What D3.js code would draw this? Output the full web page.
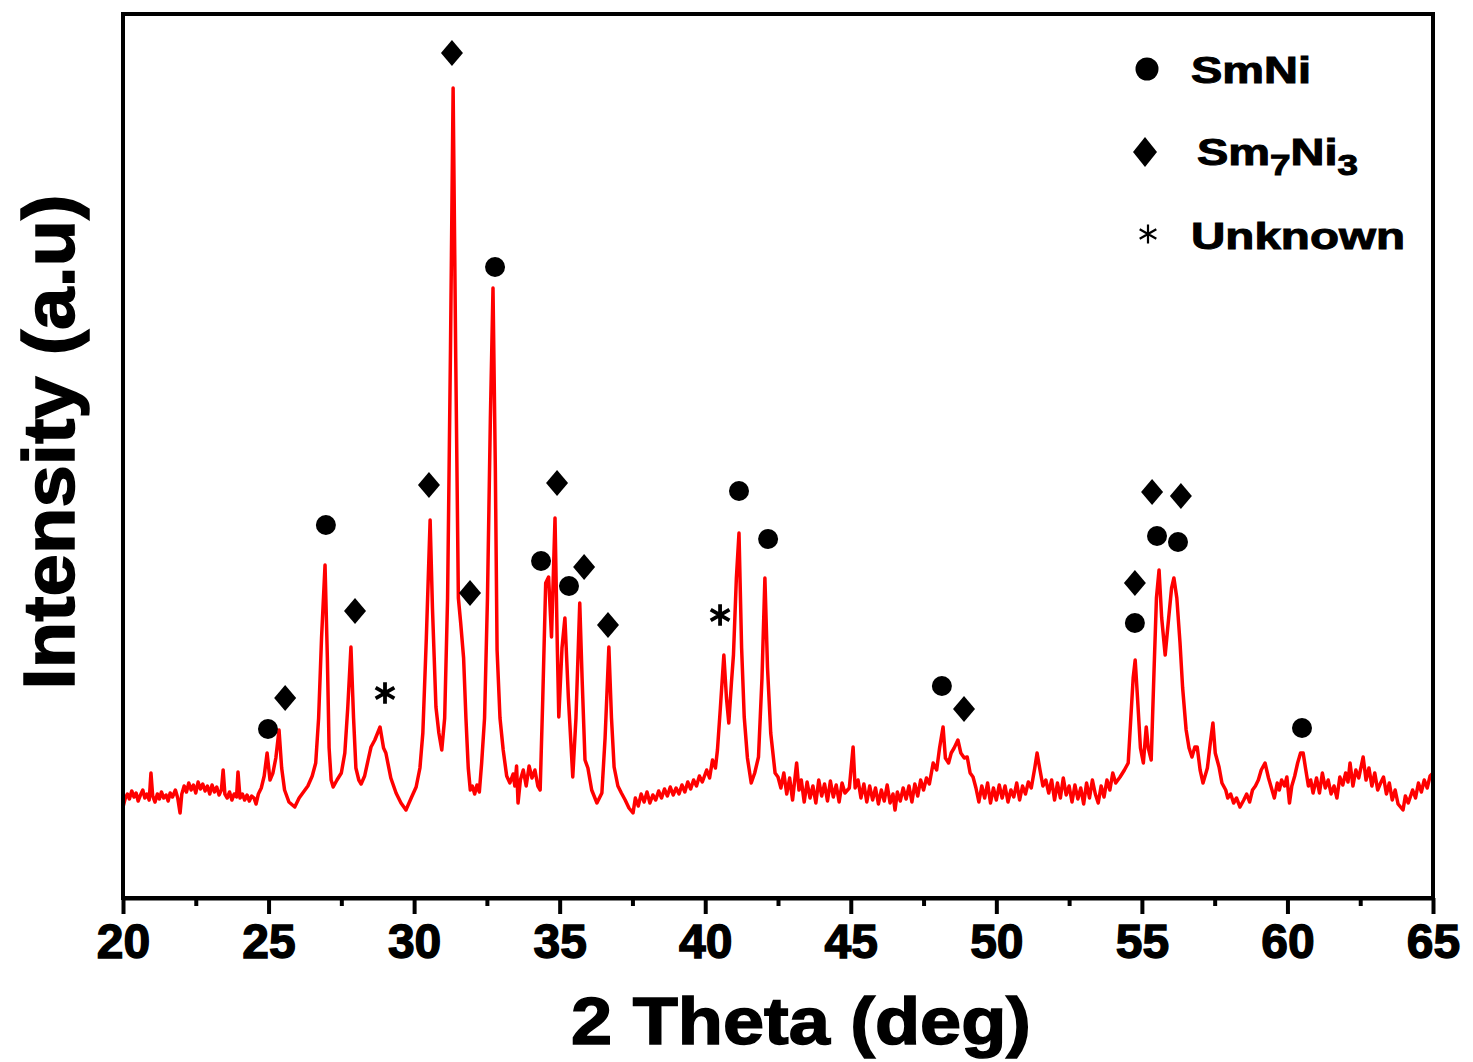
<!DOCTYPE html>
<html>
<head>
<meta charset="utf-8">
<script src="https://cdn.jsdelivr.net/npm/d3@7"></script>
<style>
  html, body { margin: 0; padding: 0; background: #fff; }
  svg { display: block; }
  text { font-family: "Liberation Sans", Arial, sans-serif; font-weight: bold; }
</style>
</head>
<body>
<svg id="chart" width="1473" height="1062"></svg>
<script>
// ---------------- DATA ----------------
const xDomain = [20, 65];
const yDomain = [0, 884];           // arbitrary intensity units
const majorTicks = [20, 25, 30, 35, 40, 45, 50, 55, 60, 65];
const minorTicks = [22.5, 27.5, 32.5, 37.5, 42.5, 47.5, 52.5, 57.5, 62.5];
const xLabel = "2 Theta (deg)";
const yLabel = "Intensity (a.u)";

// XRD pattern: [2theta, intensity]
const pattern = [
  [20.00,91],[20.08,100],[20.15,104],[20.22,99],[20.30,107],[20.38,101],[20.45,105],[20.52,97],
  [20.60,103],[20.68,108],[20.75,100],[20.82,104],[20.90,98],[20.96,125],[21.02,102],[21.10,96],
  [21.18,104],[21.25,99],[21.32,106],[21.40,100],[21.48,103],[21.55,97],[21.62,105],[21.70,101],
  [21.80,108],[21.88,100],[21.96,85],[22.02,104],[22.10,112],[22.18,106],[22.26,115],[22.34,108],
  [22.42,113],[22.50,105],[22.58,116],[22.66,109],[22.74,114],[22.82,107],[22.90,112],[22.98,104],
  [23.06,113],[23.14,106],[23.22,111],[23.30,103],[23.38,108],[23.44,128],[23.50,104],[23.58,100],
  [23.66,106],[23.74,98],[23.82,104],[23.90,101],[23.95,126],[24.02,100],[24.10,104],[24.18,98],
  [24.26,103],[24.34,97],[24.42,102],[24.50,100],[24.57,94],[24.65,104],[24.75,110],[24.85,122],
  [24.95,145],[25.05,118],[25.15,125],[25.25,140],[25.36,168],[25.45,130],[25.55,108],[25.70,96],
  [25.90,91],[26.05,100],[26.20,106],[26.35,112],[26.50,122],[26.62,135],[26.72,180],[26.82,260],
  [26.94,333],[27.02,240],[27.08,150],[27.15,118],[27.22,111],[27.35,118],[27.50,125],[27.62,145],
  [27.72,190],[27.83,251],[27.92,180],[28.00,130],[28.10,118],[28.18,114],[28.30,122],[28.42,138],
  [28.52,151],[28.65,158],[28.83,171],[28.95,150],[29.03,145],[29.20,120],[29.38,105],[29.55,95],
  [29.72,88],[29.90,100],[30.07,111],[30.20,130],[30.30,165],[30.42,260],[30.55,378],[30.63,290],
  [30.75,191],[30.85,165],[30.95,148],[31.05,180],[31.15,300],[31.25,550],[31.34,810],[31.43,540],
  [31.52,300],[31.60,275],[31.70,240],[31.78,180],[31.86,130],[31.93,108],[32.00,112],[32.08,104],
  [32.16,113],[32.24,106],[32.32,135],[32.42,180],[32.52,300],[32.62,480],[32.71,610],[32.79,430],
  [32.85,248],[32.95,180],[33.06,148],[33.18,122],[33.29,115],[33.40,124],[33.46,112],[33.52,132],
  [33.57,95],[33.65,118],[33.75,128],[33.85,112],[33.95,132],[34.05,120],[34.15,128],[34.25,112],
  [34.33,108],[34.42,200],[34.52,315],[34.62,321],[34.72,261],[34.84,380],[34.92,250],[34.97,181],
  [35.08,250],[35.18,280],[35.30,200],[35.45,121],[35.56,180],[35.69,295],[35.77,220],[35.87,138],
  [35.97,130],[36.10,108],[36.28,95],[36.45,105],[36.56,160],[36.69,251],[36.78,180],[36.87,131],
  [37.00,112],[37.12,105],[37.25,98],[37.38,90],[37.52,85],[37.60,100],[37.70,92],[37.80,104],
  [37.90,96],[38.00,106],[38.10,95],[38.20,103],[38.30,98],[38.40,107],[38.50,100],[38.60,109],
  [38.70,102],[38.80,111],[38.90,103],[39.00,110],[39.10,104],[39.20,113],[39.30,106],[39.40,116],
  [39.50,109],[39.60,118],[39.70,112],[39.80,122],[39.90,116],[40.05,128],[40.15,120],[40.25,138],
  [40.35,130],[40.42,148],[40.52,190],[40.64,243],[40.73,200],[40.81,175],[40.90,215],[40.97,243],
  [41.07,320],[41.16,365],[41.25,250],[41.34,181],[41.45,140],[41.58,115],[41.70,125],[41.83,141],
  [41.95,220],[42.05,320],[42.14,230],[42.25,165],[42.40,125],[42.50,121],[42.60,110],[42.70,125],
  [42.80,104],[42.90,120],[43.00,98],[43.14,135],[43.22,108],[43.30,118],[43.40,96],[43.50,116],
  [43.60,100],[43.70,112],[43.80,95],[43.90,118],[44.00,102],[44.10,114],[44.20,97],[44.30,117],
  [44.40,101],[44.50,113],[44.60,96],[44.70,115],[44.80,105],[44.95,110],[45.08,151],[45.15,110],
  [45.25,118],[45.35,100],[45.45,114],[45.55,96],[45.65,112],[45.75,98],[45.85,110],[45.95,94],
  [46.05,108],[46.15,97],[46.25,113],[46.35,95],[46.45,104],[46.52,88],[46.60,106],[46.70,97],
  [46.80,110],[46.90,99],[47.00,112],[47.10,96],[47.20,114],[47.30,102],[47.40,118],[47.50,108],
  [47.60,120],[47.70,114],[47.83,135],[47.95,128],[48.05,150],[48.17,171],[48.25,140],[48.36,135],
  [48.45,145],[48.55,150],[48.68,158],[48.78,145],[48.90,140],[49.00,141],[49.10,125],[49.20,121],
  [49.30,110],[49.40,96],[49.50,112],[49.60,100],[49.70,115],[49.80,95],[49.90,110],[50.00,98],
  [50.10,113],[50.20,100],[50.30,112],[50.40,96],[50.50,108],[50.60,101],[50.70,115],[50.80,98],
  [50.90,112],[51.00,104],[51.10,116],[51.20,110],[51.32,130],[51.40,145],[51.50,128],[51.60,112],
  [51.70,118],[51.80,105],[51.90,118],[52.00,98],[52.10,115],[52.20,100],[52.30,120],[52.40,103],
  [52.50,112],[52.60,96],[52.70,113],[52.80,99],[52.90,110],[53.00,94],[53.10,115],[53.20,100],
  [53.30,118],[53.40,104],[53.50,95],[53.60,112],[53.70,101],[53.80,118],[53.90,108],[54.00,125],
  [54.10,115],[54.25,121],[54.40,128],[54.53,135],[54.62,180],[54.70,220],[54.77,238],[54.85,200],
  [54.95,150],[55.05,135],[55.15,171],[55.22,150],[55.32,138],[55.42,230],[55.50,300],[55.59,328],
  [55.68,280],[55.80,243],[55.92,280],[56.02,310],[56.10,320],[56.20,300],[56.31,255],[56.40,210],
  [56.52,168],[56.62,150],[56.72,141],[56.82,151],[56.90,151],[57.00,128],[57.10,115],[57.25,130],
  [57.35,155],[57.44,175],[57.52,145],[57.65,131],[57.75,115],[57.88,108],[57.95,100],[58.05,104],
  [58.15,95],[58.25,100],[58.37,91],[58.50,98],[58.60,104],[58.70,96],[58.80,108],[58.90,112],
  [59.00,118],[59.10,128],[59.23,135],[59.35,120],[59.45,110],[59.55,100],[59.65,115],[59.72,108],
  [59.80,118],[59.90,112],[59.98,121],[60.07,95],[60.15,112],[60.25,122],[60.35,135],[60.45,145],
  [60.54,145],[60.62,130],[60.72,112],[60.80,118],[60.88,105],[61.00,120],[61.10,105],[61.20,125],
  [61.30,110],[61.40,118],[61.50,104],[61.60,112],[61.70,100],[61.80,121],[61.90,113],[62.00,125],
  [62.08,116],[62.15,135],[62.25,112],[62.35,128],[62.45,120],[62.60,141],[62.70,118],[62.80,130],
  [62.90,112],[63.00,125],[63.10,108],[63.20,115],[63.30,121],[63.40,104],[63.50,115],[63.60,98],
  [63.70,108],[63.80,94],[63.97,88],[64.05,102],[64.15,95],[64.30,108],[64.40,100],[64.50,115],
  [64.60,106],[64.70,118],[64.80,110],[64.90,122],[65.00,125]
];

// Phase markers: [2theta, intensity of marker]
const smNiPeaks = [
  [24.98,169],[26.97,373],[32.78,631],[34.36,337],[35.32,312],[41.16,407],
  [42.16,359],[48.13,212],[54.76,275],[55.52,362],[56.24,356],[60.50,170]
];
const sm7Ni3Peaks = [
  [25.57,200],[27.97,287],[30.51,413],[31.30,845],[31.92,305],[34.91,415],
  [35.84,331],[36.66,273],[48.89,189],[54.76,315],[55.35,406],[56.34,402]
];
const unknownPeaks = [[29.00,205],[40.51,283]];

const legendItems = ["SmNi", "Sm7Ni3", "Unknown"];

// ---------------- CHART ----------------
const svg = d3.select("#chart");
const margin = {left: 123, right: 40, top: 14, bottom: 164};
const W = 1473, H = 1062;
const x = d3.scaleLinear().domain(xDomain).range([margin.left, W - margin.right]);
const y = d3.scaleLinear().domain(yDomain).range([H - margin.bottom, margin.top]);

const lineColor = "#ff0000";

// trace
const line = d3.line().x(d => x(d[0])).y(d => y(d[1]));
svg.append("path")
  .datum(pattern)
  .attr("d", line)
  .attr("fill", "none")
  .attr("stroke", lineColor)
  .attr("stroke-width", 3.5)
  .attr("stroke-linejoin", "round");

// markers
const diamondPath = "M0,-13L11,0L0,13L-11,0Z";
svg.append("g").selectAll("circle").data(smNiPeaks).join("circle")
  .attr("cx", d => x(d[0])).attr("cy", d => y(d[1])).attr("r", 10).attr("fill", "#000");
svg.append("g").selectAll("path").data(sm7Ni3Peaks).join("path")
  .attr("d", diamondPath)
  .attr("transform", d => `translate(${x(d[0])},${y(d[1])})`)
  .attr("fill", "#000");
const ast = d3.symbol().type(d3.symbolAsterisk).size(330);
svg.append("g").selectAll("path").data(unknownPeaks).join("path")
  .attr("d", ast)
  .attr("transform", d => `translate(${x(d[0])},${y(d[1])})`)
  .attr("fill", "none").attr("stroke", "#000").attr("stroke-width", 3.8);

// frame
svg.append("rect")
  .attr("x", margin.left).attr("y", margin.top)
  .attr("width", W - margin.right - margin.left)
  .attr("height", H - margin.bottom - margin.top)
  .attr("fill", "none").attr("stroke", "#000").attr("stroke-width", 4);

// x axis major
const gx = svg.append("g").attr("transform", `translate(0,${H - margin.bottom})`)
  .call(d3.axisBottom(x).tickValues(majorTicks).tickSize(16).tickSizeOuter(0).tickPadding(10).tickFormat(d3.format("d")));
gx.select(".domain").attr("stroke-width", 4);
gx.selectAll(".tick line").attr("stroke-width", 4);
gx.selectAll(".tick text")
  .attr("font-size", 48).attr("font-family", "'Liberation Sans', Arial, sans-serif")
  .attr("font-weight", "bold").attr("fill", "#000")
  .attr("stroke", "#000").attr("stroke-width", 1.4);
// x axis minor
const gxm = svg.append("g").attr("transform", `translate(0,${H - margin.bottom})`)
  .call(d3.axisBottom(x).tickValues(minorTicks).tickSize(8).tickSizeOuter(0).tickFormat(""));
gxm.select(".domain").remove();
gxm.selectAll(".tick line").attr("stroke-width", 4);

// axis titles
svg.append("text")
  .attr("x", (margin.left + W - margin.right) / 2 + 23).attr("y", 1044)
  .attr("text-anchor", "middle").attr("font-size", 66)
  .attr("textLength", 460).attr("lengthAdjust", "spacingAndGlyphs")
  .attr("stroke", "#000").attr("stroke-width", 1.5)
  .text(xLabel);
svg.append("text")
  .attr("transform", `translate(74,442) rotate(-90)`)
  .attr("text-anchor", "middle").attr("font-size", 72)
  .attr("textLength", 495).attr("lengthAdjust", "spacingAndGlyphs")
  .attr("stroke", "#000").attr("stroke-width", 1.5)
  .text(yLabel);

// legend
const lg = svg.append("g");
lg.append("circle").attr("cx", 1147).attr("cy", 69).attr("r", 11.5).attr("fill", "#000");
lg.append("text").attr("x", 1191).attr("y", 83).attr("font-size", 37)
  .attr("textLength", 120).attr("lengthAdjust", "spacingAndGlyphs")
  .attr("stroke", "#000").attr("stroke-width", 1)
  .text(legendItems[0]);

lg.append("path").attr("d", "M0,-15L12,0L0,15L-12,0Z")
  .attr("transform", "translate(1145,152)").attr("fill", "#000");
const t2 = lg.append("text").attr("x", 1197).attr("y", 165).attr("font-size", 37)
  .attr("textLength", 161).attr("lengthAdjust", "spacingAndGlyphs")
  .attr("stroke", "#000").attr("stroke-width", 1);
t2.append("tspan").text("Sm");
t2.append("tspan").attr("font-size", 29).attr("dy", 10).text("7");
t2.append("tspan").attr("dy", -10).text("Ni");
t2.append("tspan").attr("font-size", 29).attr("dy", 10).text("3");

lg.append("path").attr("d", d3.symbol().type(d3.symbolAsterisk).size(260))
  .attr("transform", "translate(1148,234)")
  .attr("fill", "none").attr("stroke", "#000").attr("stroke-width", 2.2);
lg.append("text").attr("x", 1191).attr("y", 249).attr("font-size", 37)
  .attr("textLength", 214).attr("lengthAdjust", "spacingAndGlyphs")
  .attr("stroke", "#000").attr("stroke-width", 1)
  .text(legendItems[2]);
</script>
</body>
</html>
